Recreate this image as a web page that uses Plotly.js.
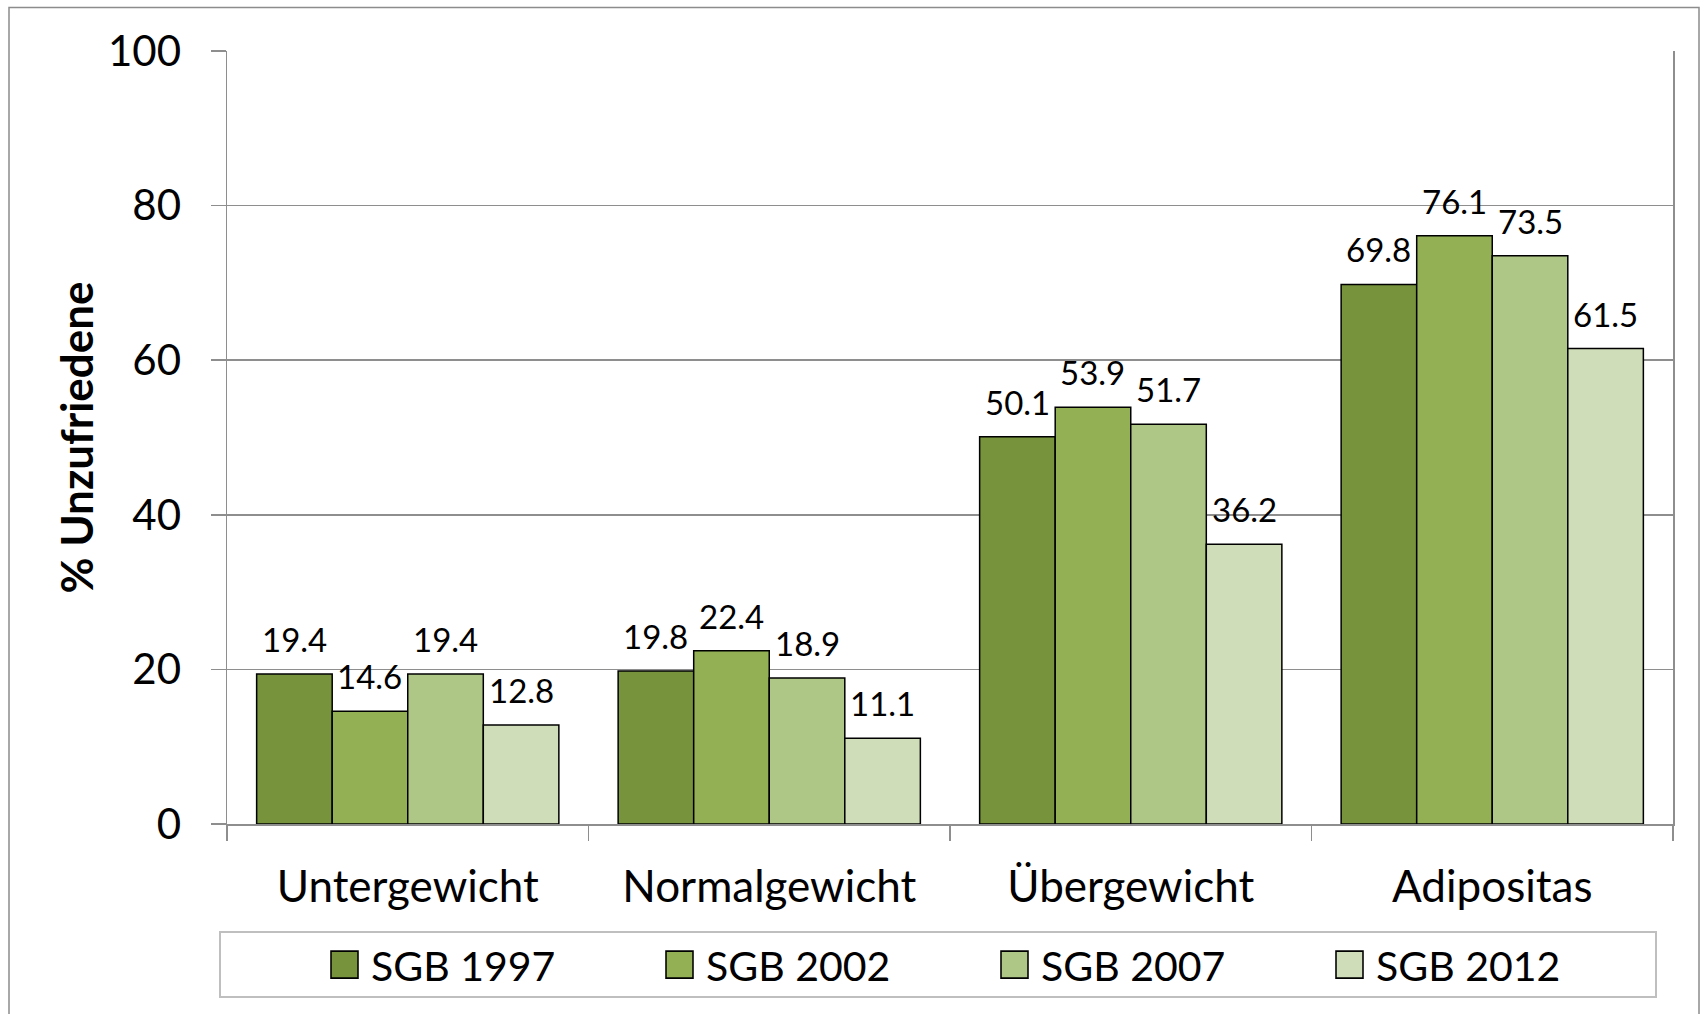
<!DOCTYPE html>
<html><head><meta charset="utf-8">
<script src="https://cdn.plot.ly/plotly-3.0.1.min.js"></script>
<style>html,body{margin:0;padding:0;background:#fff}</style>
</head><body><div id="chart" style="width:1708px;height:1014px"></div>
<script>
const categories = ['Untergewicht', 'Normalgewicht', 'Übergewicht', 'Adipositas'];
const seriesNames = ['SGB 1997', 'SGB 2002', 'SGB 2007', 'SGB 2012'];
const sgb1997 = [19.4, 19.8, 50.1, 69.8];
const sgb2002 = [14.6, 22.4, 53.9, 76.1];
const sgb2007 = [19.4, 18.9, 51.7, 73.5];
const sgb2012 = [12.8, 11.1, 36.2, 61.5];
const yTicks = [0, 20, 40, 60, 80, 100];
const yTitle = '% Unzufriedene';

const colors = ['#77933C', '#93B055', '#AEC787', '#D0DDB9'];
const FONT = 'Lato, "Open Sans", sans-serif';
const GRID = '#8E8E8E';
const bargap = 0.164;
const series = [sgb1997, sgb2002, sgb2007, sgb2012];

const traces = series.map((vals, i) => ({
  type: 'bar', name: seriesNames[i], x: categories, y: vals,
  marker: {color: colors[i], line: {color: '#000', width: 1.5}},
  hoverinfo: 'skip'
}));

const n = series.length, bw = (1 - bargap) / n;
const annotations = [];
series.forEach((vals, i) => vals.forEach((v, j) => annotations.push({
  xref: 'x', yref: 'y', x: j + (i - (n - 1) / 2) * bw, y: v,
  text: v.toFixed(1), showarrow: false, xanchor: 'center', yanchor: 'bottom', yshift: 13,
  font: {family: FONT, size: 33, color: '#000'}
})));

const L = 227, R = 1673, T = 51, B = 824, W = 1708, H = 1014;
const px = x => (x - L) / (R - L);
const py = y => (B - y) / (B - T);

const layout = {
  width: W, height: H,
  margin: {l: L, r: W - R, t: T, b: H - B, pad: 0},
  paper_bgcolor: '#fff', plot_bgcolor: '#fff',
  barmode: 'group', bargap: bargap, bargroupgap: 0,
  font: {family: FONT, color: '#000'},
  showlegend: true,
  xaxis: {
    type: 'category', tickson: 'boundaries', ticks: 'outside', ticklen: 15, tickwidth: 1.5, tickcolor: GRID,
    showline: true, linecolor: GRID, linewidth: 1.5, showgrid: false, zeroline: false,
    tickfont: {family: FONT, size: 44, color: '#000'}, ticklabelstandoff: 24, fixedrange: true
  },
  yaxis: {
    range: [0, 100], tickvals: yTicks, ticktext: yTicks.map(String),
    ticks: 'outside', ticklen: 15, tickwidth: 1.5, tickcolor: GRID,
    showline: true, mirror: true, linecolor: GRID, linewidth: 1.5,
    showgrid: true, gridcolor: GRID, gridwidth: 1.5, zeroline: false,
    tickfont: {family: FONT, size: 42, color: '#000'}, ticklabelstandoff: 21,
    title: {text: yTitle, font: {family: FONT, size: 44, weight: 700, color: '#000'}, standoff: 0},
    fixedrange: true
  },
  legend: {
    orientation: 'h', x: px(318), y: py(965), xanchor: 'left', yanchor: 'middle',
    font: {family: FONT, size: 41, color: '#000'}, bgcolor: 'rgba(0,0,0,0)', borderwidth: 0,
    itemwidth: 43, entrywidth: 277, traceorder: 'normal'
  },
  shapes: [
    {type: 'rect', xref: 'paper', yref: 'paper', x0: px(9), x1: px(1699), y0: py(7.5), y1: py(1030),
     line: {color: '#8C8C8C', width: 1.5}, fillcolor: 'rgba(0,0,0,0)', layer: 'below'},
    {type: 'rect', xref: 'paper', yref: 'paper', x0: px(220), x1: px(1656), y0: py(932), y1: py(997),
     line: {color: '#BFBFBF', width: 2}, fillcolor: 'rgba(0,0,0,0)', layer: 'below'}
  ],
  annotations: annotations
};

Plotly.newPlot('chart', traces, layout, {staticPlot: true, displayModeBar: false}).then(gd => {
  gd.querySelectorAll('.legend .legendpoints path').forEach(p => {
    const t = p.getAttribute('transform') || '';
    p.setAttribute('transform', t + ' scale(2.25)');
    p.style.strokeWidth = '0.7px';
  });
});
</script>
</body></html>
